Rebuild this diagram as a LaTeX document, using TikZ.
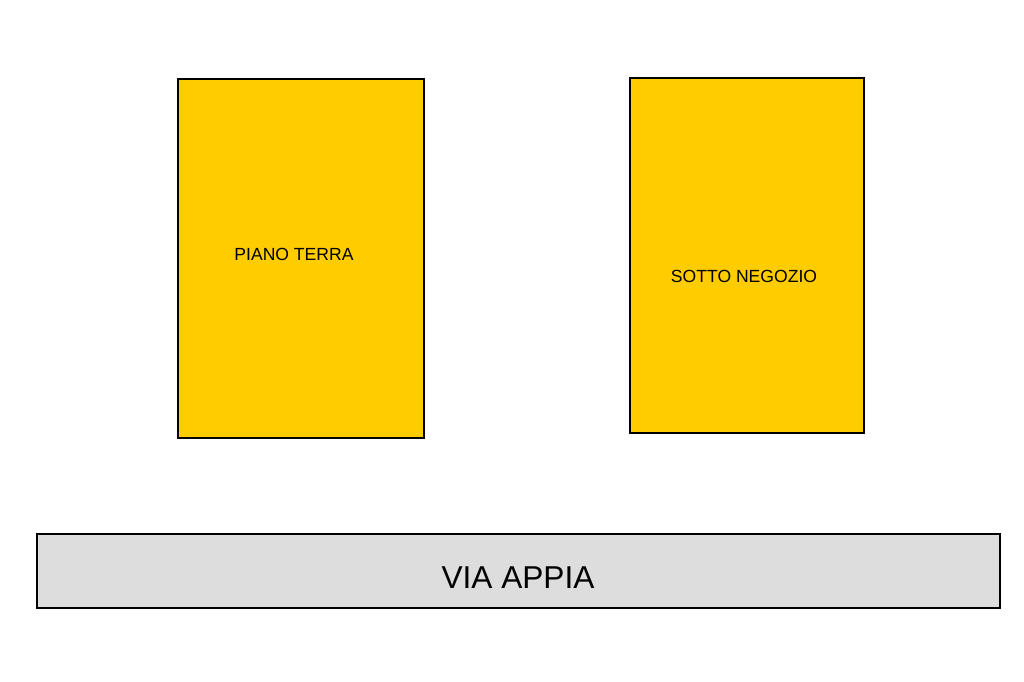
\documentclass[tikz,border=0pt]{standalone}
\usepackage{fontspec}
\setmainfont{Liberation Sans}
\usepackage{xcolor}
\definecolor{shopyellow}{HTML}{FFCC00}
\definecolor{roadgray}{HTML}{DDDDDD}

\begin{document}
\begin{tikzpicture}[
  x=0.02cm, y=-0.02cm,
  room/.style={draw=black, line width=1.6pt, fill=shopyellow},
  road/.style={draw=black, line width=1.6pt, fill=roadgray},
  lbl/.style={font=\fontsize{10}{12}\selectfont, inner sep=0pt},
  roadlbl/.style={font=\fontsize{18}{22}\selectfont, inner sep=0pt}
]
  \useasboundingbox (0,0) rectangle (1024,682);

  % Rooms
  \draw[room] (178,79) rectangle (424,438);
  \draw[room] (630,78) rectangle (864,433);
  \node[lbl] (pt) at (294,254) {PIANO TERRA};
  \node[lbl] (sn) at (744,276) {SOTTO NEGOZIO};

  % Street
  \draw[road] (37,534) rectangle (1000,608);
  \node[roadlbl] (va) at (518,578) {VIA APPIA};
\end{tikzpicture}
\end{document}
